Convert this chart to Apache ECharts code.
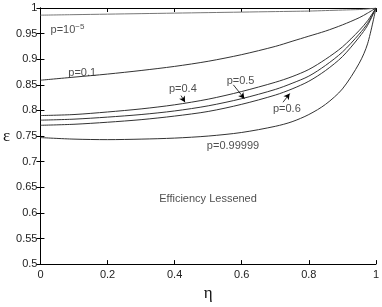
<!DOCTYPE html>
<html><head><meta charset="utf-8">
<script src="https://cdn.jsdelivr.net/npm/echarts@6/dist/echarts.min.js"></script>
<style>html,body{margin:0;padding:0;background:#fff}#c{width:382px;height:307px}</style>
</head><body><div id="c"></div>
<script>
const eta = [0, 0.1, 0.2, 0.3, 0.4, 0.5, 0.6, 0.7, 0.75, 0.8, 0.85, 0.9, 0.95, 0.975, 1];
const p1e5 = [0.986, 0.987, 0.988, 0.989, 0.990, 0.991, 0.992, 0.993, 0.9935, 0.994, 0.995, 0.996, 0.997, 0.998, 1];
const p01 = [0.859, 0.865, 0.871, 0.878, 0.886, 0.896, 0.909, 0.925, 0.935, 0.945, 0.955, 0.967, 0.981, 0.99, 1];
const p04 = [0.790, 0.792, 0.797, 0.803, 0.811, 0.822, 0.837, 0.855, 0.866, 0.880, 0.900, 0.924, 0.956, 0.975, 1];
const p05 = [0.781, 0.783, 0.787, 0.792, 0.799, 0.809, 0.823, 0.841, 0.853, 0.867, 0.888, 0.914, 0.949, 0.970, 1];
const p06 = [0.771, 0.773, 0.777, 0.782, 0.789, 0.798, 0.812, 0.830, 0.842, 0.857, 0.878, 0.905, 0.943, 0.966, 1];
const p99999 = [0.747, 0.744, 0.743, 0.744, 0.746, 0.750, 0.757, 0.769, 0.778, 0.792, 0.812, 0.842, 0.892, 0.930, 1];
const xTicks = [0, 0.2, 0.4, 0.6, 0.8, 1];
const yTicks = [0.5, 0.55, 0.6, 0.65, 0.7, 0.75, 0.8, 0.85, 0.9, 0.95, 1];

// annotation texts (data coordinates)
const notes = [
  {text: '{a|p=10}{s|−5}', at: [0.03, 0.958]},
  {text: '{a|p=0.1}', at: [0.083, 0.874]},
  {text: '{a|p=0.4}', at: [0.383, 0.841]},
  {text: '{a|p=0.5}', at: [0.555, 0.858]},
  {text: '{a|p=0.6}', at: [0.693, 0.803]},
  {text: '{a|p=0.99999}', at: [0.496, 0.731]},
  {text: '{a|Efficiency Lessened}', at: [0.354, 0.628]}
];
const arrows = [
  [[0.419, 0.829], [0.431, 0.816]],
  [[0.575, 0.850], [0.608, 0.823]],
  [[0.723, 0.816], [0.743, 0.833]]
];

const pair = arr => eta.map((x, i) => [x, arr[i]]);
const font = 'Liberation Sans, Arial, sans-serif';
const axisCommon = {
  type: 'value', min: 0, max: 1, interval: 0.2,
  axisLine: {show: true, lineStyle: {color: '#000', width: 1}},
  axisTick: {show: true, inside: true, length: 4, lineStyle: {color: '#000'}},
  splitLine: {show: false}
};
const yCommon = {
  type: 'value', min: 0.5, max: 1, interval: 0.05,
  axisLine: {show: true, lineStyle: {color: '#000', width: 1}},
  axisTick: {show: true, inside: true, length: 4, lineStyle: {color: '#000'}},
  splitLine: {show: false}
};
const lineSeries = (arr, color) => ({
  type: 'line', data: pair(arr), showSymbol: false, symbol: 'none',
  smooth: 0.3,
  lineStyle: {color: color, width: 1}, silent: true, animation: false
});

const chart = echarts.init(document.getElementById('c'), null, {renderer: 'canvas'});
chart.setOption({
  animation: false,
  grid: {left: 37, right: 6, top: 8, bottom: 33},
  xAxis: [
    Object.assign({}, axisCommon, {
      position: 'bottom',
      axisLabel: {show: true, color: '#222', fontFamily: font, fontSize: 11, margin: 5,
        formatter: v => xTicks.includes(+v.toFixed(2)) ? String(+v.toFixed(2)) : ''},
      name: 'η', nameLocation: 'middle', nameGap: 20,
      nameTextStyle: {fontFamily: 'Liberation Serif, serif', fontSize: 17, color: '#111'}
    }),
    Object.assign({}, axisCommon, {position: 'top', axisLabel: {show: false}})
  ],
  yAxis: [
    Object.assign({}, yCommon, {
      position: 'left',
      axisLabel: {show: true, color: '#222', fontFamily: font, fontSize: 11, margin: 3,
        formatter: v => String(+v.toFixed(2))},
      name: 'ε', nameLocation: 'middle', nameGap: 30, nameRotate: 0,
      nameTextStyle: {fontFamily: 'Liberation Serif, serif', fontSize: 17, color: '#111'}
    }),
    Object.assign({}, yCommon, {position: 'right', axisLabel: {show: false}})
  ],
  series: [
    lineSeries(p1e5, '#777'),
    lineSeries(p01, '#333'),
    lineSeries(p04, '#333'),
    lineSeries(p05, '#333'),
    lineSeries(p06, '#333'),
    lineSeries(p99999, '#333'),
    {
      type: 'scatter', symbolSize: 0, silent: true, animation: false,
      data: notes.map(n => ({value: n.at, text: n.text})),
      label: {show: true, position: 'inside', align: 'left', verticalAlign: 'middle',
        formatter: p => p.data.text,
        rich: {
          a: {fontFamily: font, fontSize: 11, color: '#222'},
          s: {fontFamily: font, fontSize: 8, color: '#222', verticalAlign: 'top', padding: [0, 0, 6, 0]}
        }},
      markLine: {
        silent: true, animation: false, symbol: ['none', 'arrow'], symbolSize: [5, 6],
        lineStyle: {color: '#000', width: 0.8, type: 'solid'}, label: {show: false},
        data: arrows.map(a => [{coord: a[0]}, {coord: a[1]}])
      }
    }
  ]
});
</script></body></html>
